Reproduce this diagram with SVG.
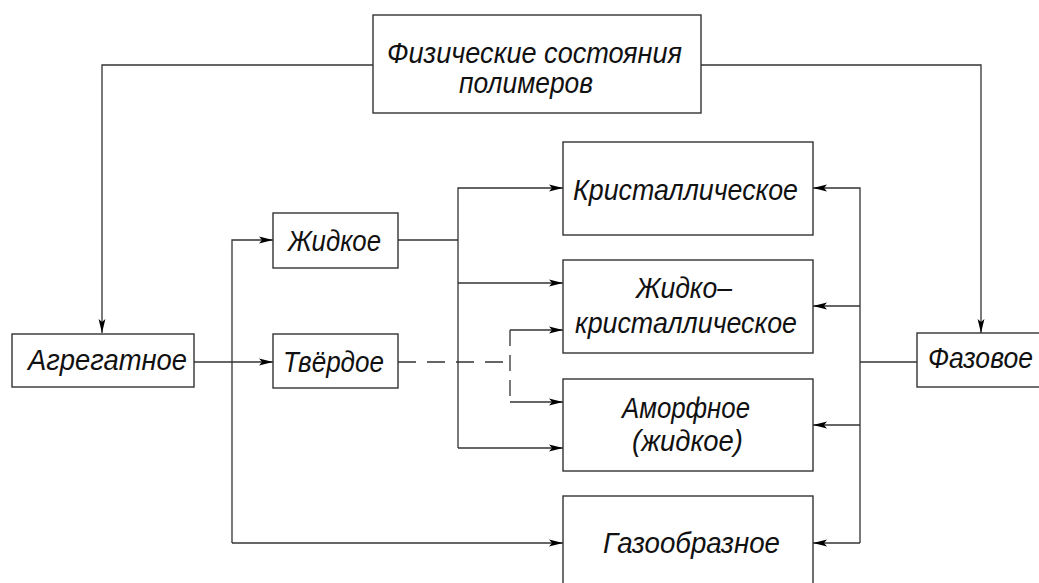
<svg xmlns="http://www.w3.org/2000/svg" width="1039" height="583" viewBox="0 0 1039 583">
<style>
.box{fill:#fff;stroke:#333;stroke-width:1.4}
.ln{fill:none;stroke:#333;stroke-width:1.3}
.dash{stroke-dasharray:18 11}
.t{font-family:"Liberation Sans","DejaVu Sans",sans-serif;font-style:italic;font-size:29px;fill:#111;font-weight:normal}
</style>
<defs>
<marker id="ah" markerUnits="userSpaceOnUse" markerWidth="20" markerHeight="12" refX="16" refY="6" orient="auto">
<path d="M16,6 L2,2.6 L5,6 L2,9.4 Z" fill="#000"/>
</marker>
</defs>
<rect width="1039" height="583" fill="#fff"/>
<g id="connectors">
<path class="ln" d="M373,65 H102 V333" marker-end="url(#ah)"/>
<path class="ln" d="M701,65 H981 V333" marker-end="url(#ah)"/>
<path class="ln" d="M194,362 H273" marker-end="url(#ah)"/>
<path class="ln" d="M232,543 V240 H273" marker-end="url(#ah)"/>
<path class="ln" d="M232,543 H563" marker-end="url(#ah)"/>
<path class="ln" d="M398,240 H458"/>
<path class="ln" d="M458,448 V188 H563" marker-end="url(#ah)"/>
<path class="ln" d="M458,283 H563" marker-end="url(#ah)"/>
<path class="ln" d="M458,448 H563" marker-end="url(#ah)"/>
<path class="ln dash" d="M398,362 H510"/>
<path class="ln dash" d="M510,330 V402" style="stroke-dasharray:16 9"/>
<path class="ln" d="M510,330 H563" marker-end="url(#ah)"/>
<path class="ln" d="M510,402 H563" marker-end="url(#ah)"/>
<path class="ln" d="M917,362 H860"/>
<path class="ln" d="M860,543 V188 H813" marker-end="url(#ah)"/>
<path class="ln" d="M860,306 H813" marker-end="url(#ah)"/>
<path class="ln" d="M860,425 H813" marker-end="url(#ah)"/>
<path class="ln" d="M860,543 H813" marker-end="url(#ah)"/>
</g>
<g id="node-top">
<rect class="box" x="373" y="15" width="328" height="98"/>
<text class="t" x="387" y="63" textLength="295" lengthAdjust="spacingAndGlyphs">Физические состояния</text>
<text class="t" x="459" y="93" textLength="134" lengthAdjust="spacingAndGlyphs">полимеров</text>
</g>
<g id="node-agregatnoe">
<rect class="box" x="12" y="334" width="182" height="53"/>
<text class="t" x="28" y="370" textLength="159" lengthAdjust="spacingAndGlyphs">Агрегатное</text>
</g>
<g id="node-zhidkoe">
<rect class="box" x="273" y="213" width="125" height="55"/>
<text class="t" x="288" y="251" textLength="93" lengthAdjust="spacingAndGlyphs">Жидкое</text>
</g>
<g id="node-tverdoe">
<rect class="box" x="273" y="334" width="125" height="54"/>
<text class="t" x="283" y="372" textLength="101" lengthAdjust="spacingAndGlyphs">Твёрдое</text>
</g>
<g id="node-kristall">
<rect class="box" x="563" y="142" width="250" height="93"/>
<text class="t" x="573" y="200" textLength="225" lengthAdjust="spacingAndGlyphs">Кристаллическое</text>
</g>
<g id="node-zhidko-kristall">
<rect class="box" x="563" y="260" width="250" height="93"/>
<text class="t" x="636" y="298" textLength="96" lengthAdjust="spacingAndGlyphs">Жидко–</text>
<text class="t" x="575" y="333" textLength="222" lengthAdjust="spacingAndGlyphs">кристаллическое</text>
</g>
<g id="node-amorfnoe">
<rect class="box" x="563" y="379" width="250" height="92"/>
<text class="t" x="622" y="418" textLength="128" lengthAdjust="spacingAndGlyphs">Аморфное</text>
<text class="t" x="632" y="451" textLength="111" lengthAdjust="spacingAndGlyphs">(жидкое)</text>
</g>
<g id="node-gazoobraznoe">
<rect class="box" x="563" y="496" width="250" height="110"/>
<text class="t" x="603" y="553" textLength="177" lengthAdjust="spacingAndGlyphs">Газообразное</text>
</g>
<g id="node-fazovoe">
<rect class="box" x="917" y="333" width="140" height="54"/>
<text class="t" x="928" y="368" textLength="105" lengthAdjust="spacingAndGlyphs">Фазовое</text>
</g>
</svg>
